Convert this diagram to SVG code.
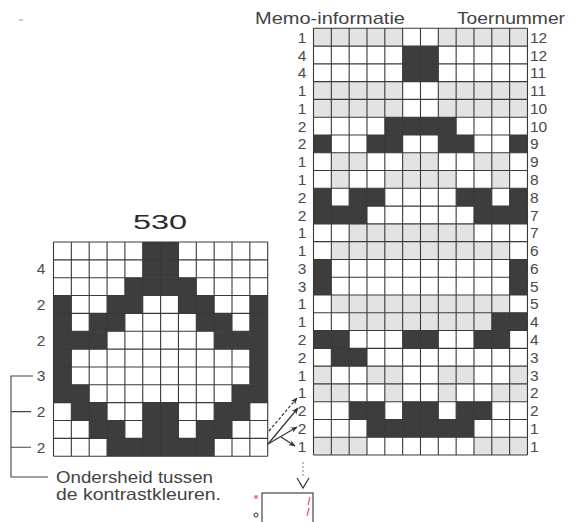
<svg xmlns="http://www.w3.org/2000/svg" width="573" height="522" viewBox="0 0 573 522">
<defs>
<style>
.dk{fill:#3d3d3d}
.gy{fill:#e3e3e3}
.gl{fill:none;stroke:#3a3a3a;stroke-width:1.1}
.lb{font-family:"Liberation Sans",Arial,sans-serif;font-size:15.5px;fill:#4a4a4a}
.mid{text-anchor:middle}
.tx{font-family:"Liberation Sans",Arial,sans-serif;fill:#444}
.ln{fill:none;stroke:#444;stroke-width:1.1}
.ar{fill:none;stroke:#333;stroke-width:1.2}
</style>
<marker id="ah" viewBox="0 0 10 10" refX="9" refY="5" markerWidth="7" markerHeight="7" orient="auto" markerUnits="userSpaceOnUse">
<path d="M0,1 L10,5 L0,9 L3,5 Z" fill="#333"/>
</marker>
</defs>
<rect width="573" height="522" fill="#fff"/>
<line x1="19" y1="20" x2="23" y2="20" stroke="#999" stroke-width="1"/>

<!-- headers -->
<g id="headers">
<text class="tx" x="255" y="24" font-size="17" textLength="150" lengthAdjust="spacingAndGlyphs">Memo-informatie</text>
<text class="tx" x="457" y="24" font-size="17" textLength="108" lengthAdjust="spacingAndGlyphs">Toernummer</text>
<text class="tx mid" x="160" y="229" font-size="20" fill="#222" textLength="54" lengthAdjust="spacingAndGlyphs" style="fill:#2a2a2a">530</text>
</g>

<!-- left grid -->
<g id="grid-530" transform="translate(53.5,242) scale(17.85,17.85)">
<rect width="12" height="12" fill="#fff"/>
<g class="dk">
<rect x="5" y="0" width="2" height="2"/>
<rect x="4" y="2" width="4" height="1"/>
<rect x="0" y="3" width="1" height="5"/><rect x="3" y="3" width="2" height="1"/><rect x="7" y="3" width="2" height="1"/><rect x="11" y="3" width="1" height="5"/>
<rect x="2" y="4" width="2" height="1"/><rect x="8" y="4" width="2" height="1"/>
<rect x="1" y="5" width="2" height="1"/><rect x="9" y="5" width="2" height="1"/>
<rect x="1" y="8" width="1" height="1"/><rect x="10" y="8" width="1" height="1"/><rect x="0" y="8" width="1" height="1"/><rect x="11" y="8" width="1" height="1"/>
<rect x="1" y="9" width="2" height="1"/><rect x="5" y="9" width="2" height="2"/><rect x="9" y="9" width="2" height="1"/>
<rect x="2" y="10" width="2" height="1"/><rect x="8" y="10" width="2" height="1"/>
<rect x="3" y="11" width="6" height="1"/>
</g>
<path class="gl" vector-effect="non-scaling-stroke" d="M0 0V12M1 0V12M2 0V12M3 0V12M4 0V12M5 0V12M6 0V12M7 0V12M8 0V12M9 0V12M10 0V12M11 0V12M12 0V12M0 0H12M0 1H12M0 2H12M0 3H12M0 4H12M0 5H12M0 6H12M0 7H12M0 8H12M0 9H12M0 10H12M0 11H12M0 12H12"/>
</g>

<g id="labels-530">
<text class="lb mid" x="41" y="274.3">4</text>
<text class="lb mid" x="41" y="310">2</text>
<text class="lb mid" x="41" y="345.7">2</text>
<text class="lb mid" x="41" y="381.4">3</text>
<text class="lb mid" x="41" y="417.1">2</text>
<text class="lb mid" x="41" y="452.8">2</text>
</g>

<g id="bracket">
<path class="ln" d="M33 376H11V477H48M11 411.6H31M11 447.3H31"/>
<text class="tx" x="56" y="483" font-size="16.5" textLength="157" lengthAdjust="spacingAndGlyphs">Ondersheid tussen</text>
<text class="tx" x="56" y="500" font-size="16.5" textLength="165" lengthAdjust="spacingAndGlyphs">de kontrastkleuren.</text>
</g>

<!-- right grid -->
<g id="grid-memo" transform="translate(313.5,28.3) scale(17.83,17.78)">
<rect width="12" height="24" fill="#fff"/>
<g class="gy">
<rect x="0" y="0" width="5" height="1"/><rect x="7" y="0" width="5" height="1"/>
<rect x="0" y="3" width="5" height="2"/><rect x="7" y="3" width="5" height="2"/>
<rect x="1" y="7" width="2" height="1"/><rect x="5" y="7" width="2" height="1"/><rect x="9" y="7" width="2" height="1"/>
<rect x="1" y="8" width="1" height="1"/><rect x="4" y="8" width="4" height="1"/><rect x="10" y="8" width="1" height="1"/>
<rect x="2" y="11" width="7" height="1"/>
<rect x="1" y="12" width="10" height="1"/>
<rect x="1" y="15" width="10" height="1"/>
<rect x="2" y="16" width="8" height="1"/>
<rect x="0" y="19" width="1" height="1"/><rect x="3" y="19" width="2" height="1"/><rect x="7" y="19" width="2" height="1"/><rect x="11" y="19" width="1" height="1"/>
<rect x="0" y="20" width="2" height="1"/><rect x="4" y="20" width="1" height="1"/><rect x="7" y="20" width="1" height="1"/><rect x="10" y="20" width="2" height="1"/>
<rect x="0" y="23" width="3" height="1"/><rect x="9" y="23" width="3" height="1"/>
</g>
<g class="dk">
<rect x="5" y="1" width="2" height="2"/>
<rect x="4" y="5" width="4" height="1"/>
<rect x="0" y="6" width="1" height="1"/><rect x="3" y="6" width="2" height="1"/><rect x="7" y="6" width="2" height="1"/><rect x="11" y="6" width="1" height="1"/>
<rect x="0" y="9" width="1" height="1"/><rect x="2" y="9" width="2" height="1"/><rect x="8" y="9" width="2" height="1"/><rect x="11" y="9" width="1" height="1"/>
<rect x="0" y="10" width="3" height="1"/><rect x="9" y="10" width="3" height="1"/>
<rect x="0" y="13" width="1" height="2"/><rect x="11" y="13" width="1" height="2"/>
<rect x="10" y="16" width="2" height="1"/>
<rect x="0" y="17" width="2" height="1"/><rect x="5" y="17" width="2" height="1"/><rect x="9" y="17" width="2" height="1"/>
<rect x="1" y="18" width="2" height="1"/>
<rect x="2" y="21" width="2" height="1"/><rect x="5" y="21" width="2" height="1"/><rect x="8" y="21" width="2" height="1"/>
<rect x="3" y="22" width="6" height="1"/>
</g>
<path class="gl" vector-effect="non-scaling-stroke" d="M0 0V24M1 0V24M2 0V24M3 0V24M4 0V24M5 0V24M6 0V24M7 0V24M8 0V24M9 0V24M10 0V24M11 0V24M12 0V24M0 0H12M0 1H12M0 2H12M0 3H12M0 4H12M0 5H12M0 6H12M0 7H12M0 8H12M0 9H12M0 10H12M0 11H12M0 12H12M0 13H12M0 14H12M0 15H12M0 16H12M0 17H12M0 18H12M0 19H12M0 20H12M0 21H12M0 22H12M0 23H12M0 24H12"/>
</g>

<g id="labels-memo">
<text class="lb mid" x="302" y="42.7">1</text>
<text class="lb mid" x="302" y="60.5">4</text>
<text class="lb mid" x="302" y="78.3">4</text>
<text class="lb mid" x="302" y="96">1</text>
<text class="lb mid" x="302" y="113.8">1</text>
<text class="lb mid" x="302" y="131.6">2</text>
<text class="lb mid" x="302" y="149.4">2</text>
<text class="lb mid" x="302" y="167.2">1</text>
<text class="lb mid" x="302" y="184.9">1</text>
<text class="lb mid" x="302" y="202.7">2</text>
<text class="lb mid" x="302" y="220.5">2</text>
<text class="lb mid" x="302" y="238.3">1</text>
<text class="lb mid" x="302" y="256.1">1</text>
<text class="lb mid" x="302" y="273.8">3</text>
<text class="lb mid" x="302" y="291.6">3</text>
<text class="lb mid" x="302" y="309.4">1</text>
<text class="lb mid" x="302" y="327.2">1</text>
<text class="lb mid" x="302" y="345">2</text>
<text class="lb mid" x="302" y="362.7">2</text>
<text class="lb mid" x="302" y="380.5">1</text>
<text class="lb mid" x="302" y="398.3">1</text>
<text class="lb mid" x="302" y="416.1">2</text>
<text class="lb mid" x="302" y="433.9">2</text>
<text class="lb mid" x="302" y="451.6">1</text>
</g>

<g id="labels-toer">
<text class="lb" x="530" y="42.7">12</text>
<text class="lb" x="530" y="60.5">12</text>
<text class="lb" x="530" y="78.3">11</text>
<text class="lb" x="530" y="96">11</text>
<text class="lb" x="530" y="113.8">10</text>
<text class="lb" x="530" y="131.6">10</text>
<text class="lb" x="530" y="149.4">9</text>
<text class="lb" x="530" y="167.2">9</text>
<text class="lb" x="530" y="184.9">8</text>
<text class="lb" x="530" y="202.7">8</text>
<text class="lb" x="530" y="220.5">7</text>
<text class="lb" x="530" y="238.3">7</text>
<text class="lb" x="530" y="256.1">6</text>
<text class="lb" x="530" y="273.8">6</text>
<text class="lb" x="530" y="291.6">5</text>
<text class="lb" x="530" y="309.4">5</text>
<text class="lb" x="530" y="327.2">4</text>
<text class="lb" x="530" y="345">4</text>
<text class="lb" x="530" y="362.7">3</text>
<text class="lb" x="530" y="380.5">3</text>
<text class="lb" x="530" y="398.3">2</text>
<text class="lb" x="530" y="416.1">2</text>
<text class="lb" x="530" y="433.9">1</text>
<text class="lb" x="530" y="451.6">1</text>
</g>

<g id="connectors">
<path class="ar" stroke-dasharray="3,2" d="M269 431L297 398" marker-end="url(#ah)"/>
<path class="ar" d="M268 444L298 408" marker-end="url(#ah)"/>
<path class="ar" d="M268 444L297 427" marker-end="url(#ah)"/>
<path class="ar" d="M281 437L295 446" marker-end="url(#ah)"/>
<path fill="none" stroke="#999" stroke-width="1.2" stroke-dasharray="2,2" d="M303 462V478"/>
<path class="ar" d="M297 478L303 488L309 478"/>
</g>

<g id="legend-box">
<rect x="262" y="493" width="51" height="40" fill="#fff" stroke="#444" stroke-width="1.2"/>
<path d="M310 497L308 505M309 508L307 516" stroke="#e0607a" stroke-width="1.3" fill="none"/>
<circle cx="256" cy="497" r="2" fill="#e87a90"/>
<circle cx="256" cy="515" r="2" fill="none" stroke="#333" stroke-width="1"/>
</g>
</svg>
